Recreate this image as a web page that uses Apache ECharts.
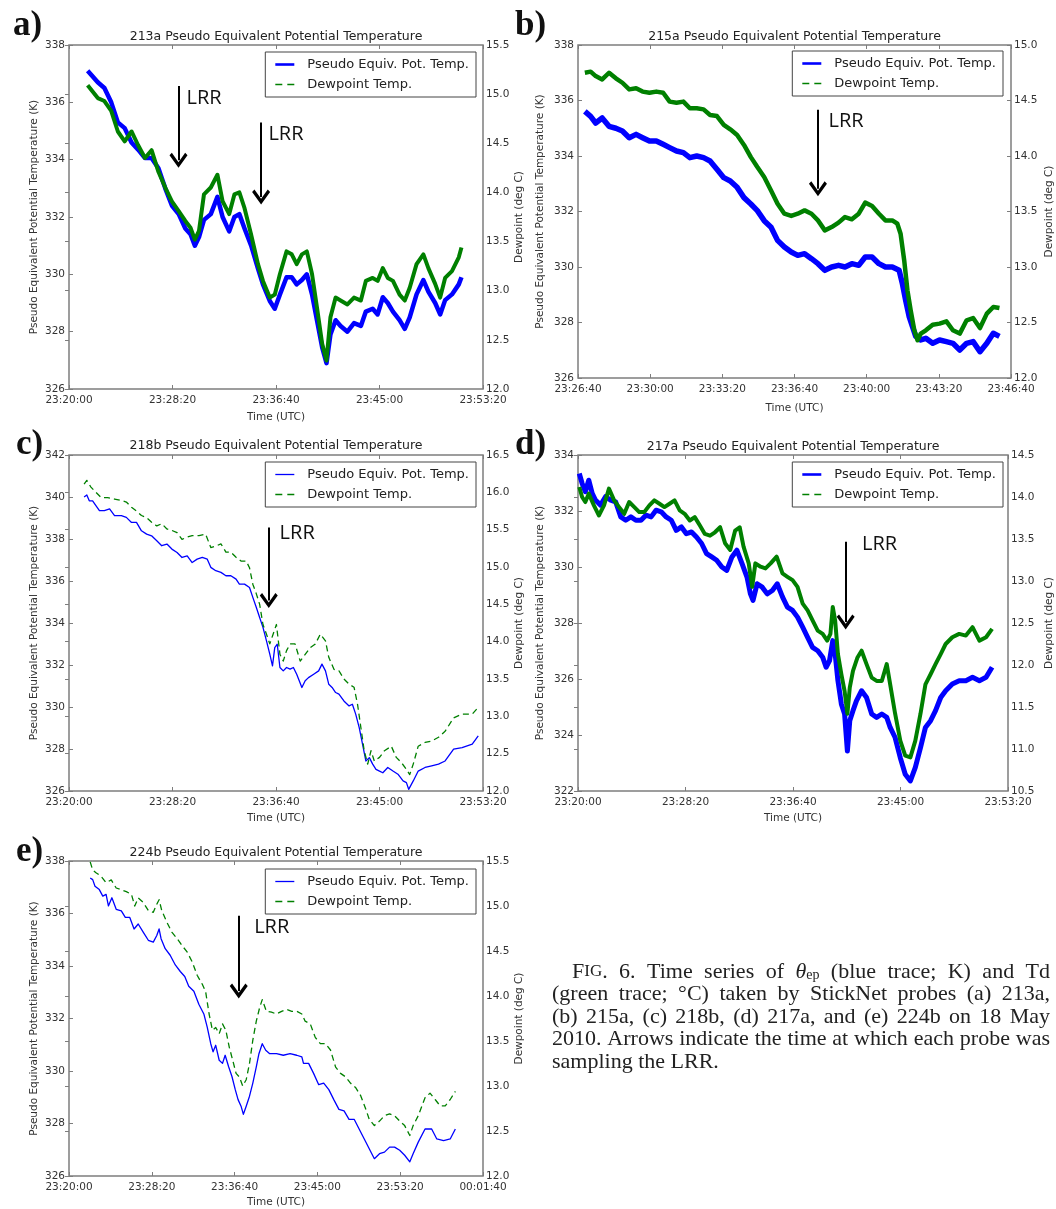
<!DOCTYPE html>
<html>
<head>
<meta charset="utf-8">
<script src="https://cdn.jsdelivr.net/npm/echarts@6/dist/echarts.min.js"></script>
<style>
  html, body { margin: 0; padding: 0; background: #fff; }
  #fig { width: 1056px; height: 1209px; }
</style>
</head>
<body>
<div id="fig"></div>
<script>
// StickNet time series, 18 May 2010. Times are seconds after 23:20:00 UTC.
const THETA_NAME = 'Pseudo Equiv. Pot. Temp.';
const DEW_NAME = 'Dewpoint Temp.';

// ---- Probe 213a ----
const time213a = [90,139,171,204,236,269,302,334,367,399,432,465,497,530,562,587,608,628,652,685,717,742,774,799,823,848,880,913,937,970,994,1019,1051,1076,1100,1125,1149,1174,1198,1223,1244,1263,1288,1312,1345,1377,1410,1434,1467,1491,1516,1540,1565,1597,1622,1646,1679,1712,1736,1769,1793,1817,1850,1883,1896];
const theta213a = [337.1,336.7,336.5,336.0,335.3,335.1,334.6,334.35,334.06,334.06,333.7,333.0,332.4,332.1,331.6,331.4,331.0,331.3,331.9,332.1,332.7,332.0,331.5,332.0,332.1,331.6,331.0,330.2,329.65,329.07,328.8,329.3,329.9,329.9,329.65,329.8,330.0,329.3,328.4,327.45,326.9,327.9,328.4,328.2,328.0,328.3,328.2,328.7,328.8,328.6,329.2,329.0,328.7,328.4,328.1,328.5,329.3,329.8,329.4,329.0,328.6,329.1,329.3,329.65,329.9];
const dew213a = [15.09,14.96,14.93,14.83,14.62,14.52,14.62,14.48,14.35,14.43,14.21,14.05,13.91,13.81,13.71,13.64,13.52,13.61,13.98,14.05,14.18,13.91,13.78,13.98,14.0,13.84,13.57,13.27,13.10,12.93,12.96,13.17,13.40,13.37,13.27,13.37,13.40,13.17,12.83,12.46,12.29,12.73,12.93,12.90,12.86,12.93,12.90,13.10,13.13,13.10,13.23,13.13,13.10,12.96,12.90,13.03,13.27,13.37,13.23,13.07,12.93,13.13,13.20,13.34,13.44];
// LRR arrows: [time, shaft top (K), head (K), label time, label K]
const lrr213a = [[529, 336.57, 333.98, 565, 336.15], [928, 335.3, 332.7, 961, 334.9]];

// ---- Probe 215a ----
const time215a = [419,435,449,467,486,505,523,542,561,579,598,617,636,654,673,692,710,729,748,766,785,804,822,841,860,879,897,916,935,953,972,991,1009,1028,1047,1065,1084,1103,1122,1140,1159,1178,1196,1215,1234,1252,1271,1290,1299,1308,1318,1327,1336,1350,1364,1383,1402,1421,1439,1458,1477,1495,1514,1533,1551,1568];
const theta215a = [335.61,335.43,335.19,335.37,335.07,335.0,334.9,334.66,334.78,334.66,334.54,334.54,334.42,334.3,334.18,334.12,333.94,334.0,333.94,333.82,333.52,333.22,333.1,332.87,332.5,332.27,332.03,331.67,331.43,330.96,330.72,330.54,330.42,330.48,330.3,330.12,329.88,330.0,330.06,330.0,330.12,330.06,330.36,330.36,330.12,330.0,330.0,329.88,329.4,328.8,328.2,327.85,327.5,327.37,327.43,327.25,327.37,327.31,327.25,327.01,327.25,327.31,326.95,327.25,327.61,327.5];
const timeDew215a = [419,435,449,467,486,505,523,542,561,579,598,617,636,654,673,692,710,729,748,766,785,804,822,841,860,879,897,916,935,953,972,991,1009,1028,1047,1065,1084,1103,1122,1140,1159,1178,1196,1215,1234,1252,1271,1285,1294,1304,1313,1322,1332,1341,1350,1364,1383,1402,1421,1439,1458,1477,1495,1514,1533,1551,1568];
const dew215a = [14.75,14.76,14.72,14.69,14.75,14.70,14.66,14.60,14.61,14.58,14.57,14.58,14.57,14.49,14.48,14.49,14.43,14.43,14.42,14.37,14.36,14.28,14.24,14.19,14.10,13.99,13.90,13.81,13.69,13.57,13.48,13.46,13.48,13.51,13.48,13.42,13.33,13.36,13.40,13.45,13.43,13.48,13.58,13.55,13.48,13.42,13.42,13.39,13.30,13.06,12.79,12.61,12.43,12.34,12.40,12.43,12.48,12.49,12.51,12.43,12.40,12.52,12.54,12.45,12.58,12.64,12.63];
const lrr215a = [[1065, 335.67, 332.82, 1093, 335.25]];

// ---- Probe 218b ----
const time218b = [73,86,98,114,130,147,171,196,220,253,277,302,326,350,375,399,424,448,473,497,522,546,571,595,619,644,668,685,709,734,758,782,807,823,848,872,888,905,921,937,954,970,983,994,1006,1019,1035,1051,1068,1084,1100,1125,1141,1157,1182,1206,1222,1239,1255,1271,1288,1304,1328,1353,1369,1385,1402,1418,1434,1451,1467,1483,1500,1516,1540,1565,1589,1614,1630,1641,1663,1687,1720,1752,1785,1817,1858,1899,1948,1977];
const theta218b = [340.0,340.1,339.82,339.82,339.59,339.35,339.35,339.43,339.11,339.11,339.03,338.79,338.79,338.39,338.23,338.15,337.92,337.68,337.76,337.52,337.36,337.12,337.2,336.88,337.04,337.12,337.04,336.65,336.49,336.41,336.25,336.25,336.09,335.85,335.85,335.69,335.22,334.74,334.26,333.79,333.15,332.52,331.96,332.83,332.99,331.88,331.72,331.88,331.8,331.88,331.56,330.93,331.25,331.4,331.56,331.72,332.04,331.72,331.08,330.93,330.69,330.61,330.29,330.05,330.13,329.66,329.02,328.23,327.43,327.59,327.28,327.03,326.95,326.87,327.12,326.95,326.8,326.48,326.4,326.08,326.48,326.95,327.12,327.2,327.28,327.43,327.99,328.07,328.23,328.62];
const timeDew218b = [73,86,106,130,155,187,220,253,277,302,326,350,375,399,424,448,473,497,522,546,571,595,628,660,685,709,734,758,782,807,831,856,872,888,905,921,937,954,970,986,1002,1019,1035,1051,1068,1092,1117,1141,1165,1190,1214,1239,1255,1280,1304,1328,1353,1377,1394,1410,1426,1443,1459,1475,1500,1524,1557,1581,1606,1630,1646,1663,1687,1720,1752,1785,1817,1858,1899,1948,1977];
const dew218b = [16.11,16.16,16.07,16.0,15.93,15.93,15.91,15.89,15.87,15.80,15.75,15.69,15.66,15.60,15.55,15.58,15.51,15.49,15.46,15.37,15.40,15.42,15.42,15.44,15.26,15.28,15.31,15.20,15.20,15.13,15.08,15.08,14.99,14.77,14.64,14.50,14.23,14.10,13.97,14.10,14.23,13.83,13.74,13.88,13.97,13.97,13.74,13.83,13.92,13.97,14.10,14.01,13.79,13.63,13.61,13.50,13.43,13.39,13.16,12.85,12.54,12.36,12.54,12.40,12.45,12.54,12.60,12.45,12.38,12.29,12.22,12.36,12.60,12.65,12.67,12.72,12.80,12.98,13.03,13.03,13.12];
const lrr218b = [[965, 338.55, 335.07, 1015, 338.28]];

// ---- Probe 217a ----
const time217a = [6,19,34,50,66,81,105,128,152,175,199,222,246,269,293,316,340,363,387,410,434,457,481,504,528,551,575,598,622,645,669,692,716,739,763,786,802,814,833,857,880,904,927,951,974,998,1021,1045,1068,1091,1115,1138,1154,1170,1185,1196,1209,1225,1240,1253,1264,1279,1295,1319,1342,1366,1389,1413,1436,1452,1475,1499,1522,1546,1569,1593,1616,1640,1663,1687,1710,1741,1773,1804,1835,1867,1898,1926];
const theta217a = [333.34,332.99,332.69,333.1,332.63,332.39,332.21,332.51,332.39,332.33,331.79,331.67,331.79,331.67,331.67,331.85,331.79,332.03,331.97,331.79,331.67,331.31,331.43,331.19,331.25,331.07,330.84,330.48,330.36,330.24,330.0,329.88,330.36,330.6,330.12,329.64,329.04,328.81,329.4,329.28,329.04,329.16,329.4,328.93,328.57,328.45,328.21,327.85,327.49,327.13,327.01,326.78,326.42,326.66,327.37,326.9,325.94,325.1,324.75,323.43,324.51,324.87,325.22,325.58,325.34,324.75,324.63,324.75,324.63,324.27,323.91,323.19,322.6,322.36,322.84,323.55,324.27,324.51,324.87,325.34,325.58,325.82,325.94,325.94,326.06,325.94,326.06,326.42];
const timeDew217a = [6,19,34,50,74,97,121,144,168,191,215,238,262,285,308,332,355,379,402,426,449,473,496,520,543,567,590,614,637,661,684,708,731,752,770,794,810,825,849,872,896,924,951,974,998,1021,1045,1068,1091,1115,1138,1159,1174,1185,1196,1209,1225,1240,1253,1264,1279,1300,1319,1342,1366,1389,1413,1436,1452,1475,1499,1522,1546,1569,1593,1616,1640,1663,1687,1710,1741,1773,1804,1835,1867,1898,1926];
const dew217a = [14.12,14.0,13.94,14.04,13.90,13.78,13.90,14.10,13.96,13.88,13.80,13.94,13.88,13.82,13.82,13.90,13.96,13.92,13.88,13.92,13.96,13.84,13.80,13.72,13.76,13.66,13.56,13.54,13.58,13.64,13.45,13.37,13.60,13.64,13.41,13.21,12.93,13.21,13.17,13.15,13.21,13.29,13.09,13.05,13.01,12.93,12.73,12.65,12.53,12.41,12.37,12.29,12.37,12.69,12.53,12.13,11.89,11.69,11.42,11.73,11.93,12.09,12.17,12.01,11.85,11.81,11.81,12.01,11.77,11.42,11.10,10.92,10.90,11.10,11.42,11.77,11.89,12.01,12.13,12.25,12.33,12.37,12.35,12.45,12.29,12.33,12.43];
const lrr217a = [[1245, 330.9, 328.04, 1319, 330.81]];

// ---- Probe 224b ----
const time224b = [128,143,157,183,204,224,238,259,285,316,340,367,393,418,448,479,509,530,544,556,581,611,642,672,699,723,754,784,815,835,856,870,886,907,927,943,964,984,1004,1021,1039,1053,1070,1090,1110,1131,1147,1167,1188,1212,1253,1294,1335,1375,1406,1416,1447,1477,1508,1538,1569,1599,1630,1661,1691,1722,1752,1783,1813,1844,1875,1905,1936,1966,1997,2027,2058,2078,2109,2150,2190,2221,2262,2302,2333];
const theta224b = [337.35,337.29,337.04,336.91,336.66,336.73,336.29,336.6,336.16,336.1,335.85,335.85,335.41,335.6,335.29,334.98,334.91,335.16,335.41,335.04,334.66,334.41,334.04,333.79,333.6,333.23,333.04,332.54,332.16,331.66,331.04,330.73,330.98,330.41,330.29,330.6,330.16,329.79,329.29,328.91,328.66,328.35,328.66,329.04,329.54,330.16,330.66,331.04,330.79,330.66,330.66,330.6,330.66,330.6,330.54,330.29,330.29,329.91,329.48,329.54,329.29,328.91,328.54,328.48,328.16,328.16,327.79,327.41,327.04,326.66,326.85,326.91,327.1,327.1,326.98,326.79,326.54,326.85,327.29,327.79,327.79,327.41,327.35,327.41,327.79];
const timeDew224b = [128,143,163,194,224,255,285,316,346,377,397,418,448,479,509,530,544,560,591,621,652,683,713,744,774,805,825,846,866,886,907,927,947,968,988,1009,1029,1049,1070,1090,1110,1131,1151,1167,1192,1223,1253,1284,1314,1345,1375,1406,1426,1457,1487,1518,1549,1579,1610,1640,1671,1701,1732,1762,1793,1813,1844,1875,1905,1936,1966,1997,2027,2058,2078,2109,2150,2180,2211,2241,2272,2302,2333];
const dew224b = [15.49,15.40,15.37,15.33,15.26,15.29,15.20,15.18,15.16,15.13,15.0,15.09,15.04,14.95,14.93,15.02,15.07,14.95,14.82,14.71,14.64,14.56,14.49,14.38,14.23,14.13,14.05,13.80,13.62,13.65,13.58,13.69,13.62,13.43,13.29,13.14,13.10,13.0,13.07,13.25,13.51,13.72,13.87,13.96,13.83,13.82,13.80,13.83,13.85,13.83,13.83,13.80,13.72,13.69,13.54,13.47,13.47,13.40,13.21,13.14,13.10,13.03,12.98,12.89,12.74,12.63,12.56,12.61,12.67,12.69,12.67,12.61,12.56,12.45,12.56,12.67,12.87,12.92,12.85,12.78,12.78,12.85,12.94];
const lrr224b = [[1025, 335.91, 333.05, 1115, 335.48]];

// Axis ranges [min, max, step]
const timeRange = { a: [0, 2000, 500], b: [400, 1600, 200], c: [0, 2000, 500], d: [0, 2000, 500], e: [0, 2500, 500] };
const thetaRange = { a: [326, 338, 2], b: [326, 338, 2], c: [326, 342, 2], d: [322, 334, 2], e: [326, 338, 2] };
const dewRange = { a: [12, 15.5, 0.5], b: [12, 15, 0.5], c: [12, 16.5, 0.5], d: [10.5, 14.5, 0.5], e: [12, 15.5, 0.5] };

const BLUE = '#0000ff';
const GREEN = '#008000';
const FRAME = '#7d7d7d';
const INK = '#333';
const SANS = '"DejaVu Sans", sans-serif';
const SERIF_NAME = 'Liberation Serif';
const SERIF = '"Liberation Serif", "DejaVu Serif", serif';
// Open chevron arrowhead, pointing along the marker line
const CHEVRON = 'path://M50,0 L100,72 L87,86 L50,32 L13,86 L0,72 Z';
// Legend key glyphs: a solid stroke and a two-dash stroke
const KEY_SOLID_THICK = 'path://M0,0 H19 V2.6 H0 Z';
const KEY_SOLID_THIN = 'path://M0,0 H19 V1.3 H0 Z';
const KEY_DASH = 'path://M0,0 H7 V1.3 H0 Z M12,0 H19 V1.3 H12 Z';

const START = 23 * 3600 + 20 * 60;
function clock(s) {
  const t = (START + Math.round(s)) % 86400;
  return [Math.floor(t / 3600), Math.floor((t % 3600) / 60), t % 60]
    .map(v => String(v).padStart(2, '0')).join(':');
}
const pairs = (xs, ys) => xs.map((x, i) => [x, ys[i]]);

const panels = [
  { tag: 'a)', probe: '213a', key: 'a', grid: { left: 69, top: 45, width: 414, height: 344 },
    tT: time213a, th: theta213a, dT: time213a, dw: dew213a, lrr: lrr213a, dense: true, widths: [4.5, 4],
    legend: { right: 580, top: 52 }, tagPos: [13, 8], titleY: 30, gaps: [29, 29.5, 23] },
  { tag: 'b)', probe: '215a', key: 'b', grid: { left: 578, top: 45, width: 433, height: 333 },
    tT: time215a, th: theta215a, dT: timeDew215a, dw: dew215a, lrr: lrr215a, dense: true, widths: [5.5, 4.5],
    legend: { right: 53, top: 51 }, tagPos: [515, 8], titleY: 30, gaps: [32, 33, 25] },
  { tag: 'c)', probe: '218b', key: 'c', grid: { left: 69, top: 455, width: 414, height: 336 },
    tT: time218b, th: theta218b, dT: timeDew218b, dw: dew218b, lrr: lrr218b, dense: false, widths: [1.3, 1.3],
    legend: { right: 580, top: 462 }, tagPos: [16, 427], titleY: 439, gaps: [29, 29.5, 22] },
  { tag: 'd)', probe: '217a', key: 'd', grid: { left: 578, top: 455, width: 430, height: 336 },
    tT: time217a, th: theta217a, dT: timeDew217a, dw: dew217a, lrr: lrr217a, dense: true, widths: [5, 4],
    legend: { right: 53, top: 462 }, tagPos: [515, 427], titleY: 440, gaps: [32, 36, 22] },
  { tag: 'e)', probe: '224b', key: 'e', grid: { left: 69, top: 861, width: 414, height: 320 },
    tT: time224b, th: theta224b, dT: timeDew224b, dw: dew224b, lrr: lrr224b, dense: false, widths: [1.3, 1.3],
    legend: { right: 580, top: 869 }, tagPos: [16, 834], titleY: 846, gaps: [29, 28, 21] }
];

const option = {
  animation: false,
  backgroundColor: '#fff',
  textStyle: { fontFamily: SANS },
  grid: [], xAxis: [], yAxis: [], series: [], title: [], legend: [], graphic: []
};

const tickStyle = { inside: true, length: 4, lineStyle: { color: FRAME, width: 1 } };
const labelFont = { fontSize: 10.5, color: INK, fontFamily: SANS };
const nameFont = { fontSize: 10.5, color: INK, fontFamily: SANS };

panels.forEach((p, i) => {
  const [x0, x1, xs] = timeRange[p.key];
  const [l0, l1, ls] = thetaRange[p.key];
  const [r0, r1, rs] = dewRange[p.key];

  option.grid.push(Object.assign({ show: true, borderColor: FRAME, borderWidth: 1.5, containLabel: false }, p.grid));

  option.xAxis.push({
    type: 'value', gridIndex: i, position: 'bottom', min: x0, max: x1, interval: xs,
    name: 'Time (UTC)', nameLocation: 'middle', nameGap: p.gaps[2], nameTextStyle: nameFont,
    axisLine: { show: false }, axisTick: tickStyle, splitLine: { show: false },
    axisLabel: Object.assign({ formatter: clock, margin: 6 }, labelFont)
  });
  option.xAxis.push({
    type: 'value', gridIndex: i, position: 'top', min: x0, max: x1, interval: xs,
    axisLine: { show: false }, axisTick: tickStyle, splitLine: { show: false }, axisLabel: { show: false }
  });
  option.yAxis.push({
    type: 'value', gridIndex: i, position: 'left', min: l0, max: l1, interval: ls,
    name: 'Pseudo Equivalent Potential Temperature (K)', nameLocation: 'middle', nameGap: p.gaps[0],
    nameTextStyle: nameFont,
    axisLine: { show: false }, axisTick: tickStyle, splitLine: { show: false },
    axisLabel: Object.assign({ margin: 4, formatter: v => String(Math.round(v)) }, labelFont)
  });
  option.yAxis.push({
    type: 'value', gridIndex: i, position: 'right', min: r0, max: r1, interval: rs,
    name: 'Dewpoint (deg C)', nameLocation: 'middle', nameGap: p.gaps[1], nameTextStyle: nameFont,
    axisLine: { show: false }, axisTick: tickStyle, splitLine: { show: false },
    axisLabel: Object.assign({ margin: 3, formatter: v => v.toFixed(1) }, labelFont)
  });

  option.series.push({
    type: 'line', name: THETA_NAME, xAxisIndex: 2 * i, yAxisIndex: 2 * i,
    data: pairs(p.tT, p.th), symbol: 'none', showSymbol: false, z: 2,
    lineStyle: { color: BLUE, width: p.widths[0], join: 'round' }, itemStyle: { color: BLUE }
  });
  option.series.push({
    type: 'line', name: DEW_NAME, xAxisIndex: 2 * i, yAxisIndex: 2 * i + 1,
    data: pairs(p.dT, p.dw), symbol: 'none', showSymbol: false, z: 3,
    lineStyle: { color: GREEN, width: p.widths[1], type: p.dense ? 'solid' : [6, 4], join: 'round' },
    itemStyle: { color: GREEN }
  });
  // LRR arrows and labels, placed in time / theta-e coordinates
  option.series.push({
    type: 'line', name: 'LRR', xAxisIndex: 2 * i, yAxisIndex: 2 * i, data: [], z: 6,
    symbol: 'none', silent: true,
    markLine: {
      silent: true, animation: false, symbol: ['none', CHEVRON], symbolSize: [18, 15],
      lineStyle: { color: '#000', width: 2, type: 'solid' }, label: { show: false },
      emphasis: { disabled: true },
      data: p.lrr.map(a => [{ coord: [a[0], a[1]] }, { coord: [a[0], a[2]] }])
    },
    markPoint: {
      silent: true, animation: false, symbol: 'circle', symbolSize: 1,
      itemStyle: { color: 'rgba(0,0,0,0)' },
      label: { show: true, position: 'right', distance: 0, formatter: 'LRR',
        fontFamily: '"Open Sans", sans-serif', fontSize: 20, color: '#111' },
      data: p.lrr.map(a => ({ coord: [a[3], a[4]] }))
    }
  });

  option.title.push({
    text: p.probe + ' Pseudo Equivalent Potential Temperature',
    left: p.grid.left + p.grid.width / 2, top: p.titleY, textAlign: 'center', padding: 0,
    textStyle: { fontSize: 12.5, fontWeight: 'normal', color: '#222', fontFamily: SANS }
  });
  option.title.push({
    text: p.tag, left: p.tagPos[0], top: p.tagPos[1], padding: 0,
    textStyle: { fontSize: 35, fontWeight: 'bold', color: '#111', fontFamily: SERIF }
  });

  option.legend.push({
    right: p.legend.right, top: p.legend.top, orient: 'vertical', selectedMode: false,
    itemGap: 7, itemWidth: 19, itemHeight: 14, padding: [6, 7, 6, 10], symbolKeepAspect: true,
    borderColor: '#444', borderWidth: 1, borderRadius: 0, backgroundColor: '#fff',
    textStyle: { fontSize: 13, color: '#222', fontFamily: SANS, padding: [0, 0, 0, 8] },
    data: [
      { name: THETA_NAME, icon: p.dense ? KEY_SOLID_THICK : KEY_SOLID_THIN },
      { name: DEW_NAME, icon: KEY_DASH }
    ]
  });
});

// Figure caption, set justified between the two margins
const CAP_SIZE = 22;
const CAP_RIGHT = 1050;
const captionRich = {
  sc: { fontSize: CAP_SIZE, fontFamily: SERIF, fill: '#222' },
  scs: { fontSize: 17, fontFamily: SERIF, fill: '#222' },
  it: { fontSize: CAP_SIZE, fontFamily: SERIF, fontStyle: 'italic', fill: '#222' },
  sub: { fontSize: 14, fontFamily: SERIF, fill: '#222', padding: [7, 0, 0, 0] }
};
const captionLines = [
  [572, 972, true, ['{sc|F}{scs|IG}.', '6.', 'Time', 'series', 'of', '{it|θ}{sub|ep}', '(blue', 'trace;', 'K)', 'and', 'Td']],
  [552, 994.5, true, '(green trace; °C) taken by StickNet probes (a) 213a,'.split(' ')],
  [552, 1017, true, '(b) 215a, (c) 218b, (d) 217a, and (e) 224b on 18 May'.split(' ')],
  [552, 1039.5, true, '2010. Arrows indicate the time at which each probe was'.split(' ')],
  [552, 1062, false, 'sampling the LRR.'.split(' ')]
];
const measure = document.createElement('canvas').getContext('2d');
function wordWidth(word) {
  let w = 0;
  const re = /\{(\w+)\|([^}]*)\}|([^{]+)/g;
  let m;
  while ((m = re.exec(word))) {
    const st = m[1] ? captionRich[m[1]] : { fontSize: CAP_SIZE };
    measure.font = (st.fontStyle || 'normal') + ' ' + st.fontSize + 'px "' + SERIF_NAME + '"';
    w += measure.measureText(m[1] ? m[2] : m[3]).width;
  }
  return w;
}
captionLines.forEach(([x0, y, justify, words]) => {
  const widths = words.map(wordWidth);
  const total = widths.reduce((s, v) => s + v, 0);
  measure.font = CAP_SIZE + 'px "' + SERIF_NAME + '"';
  const space = justify ? (CAP_RIGHT - x0 - total) / (words.length - 1) : measure.measureText(' ').width;
  let x = x0;
  words.forEach((w, k) => {
    option.graphic.push({
      type: 'text', x: x, y: y, silent: true,
      style: { text: w, rich: captionRich, fontSize: CAP_SIZE, fontFamily: SERIF, fill: '#222',
        verticalAlign: 'middle', align: 'left' }
    });
    x += widths[k] + space;
  });
});

const chart = echarts.init(document.getElementById('fig'), null, { renderer: 'canvas' });
chart.setOption(option);
</script>
</body>
</html>
